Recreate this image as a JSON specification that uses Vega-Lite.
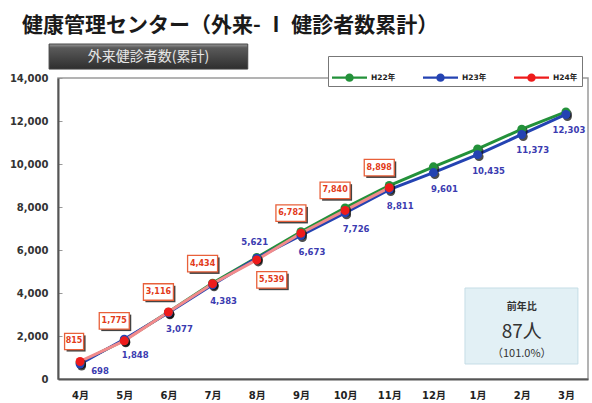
{
"$schema":"https://vega.github.io/schema/vega-lite/v6.json",
"width":530,"height":301,
"autosize":{"type":"none"},
"padding":{"left":58,"top":78,"right":4,"bottom":24},
"background":"#ffffff",
"title":{"text":"健康管理センター（外来- Ⅰ 健診者数累計）","anchor":"start","frame":"group","dx":-36,"offset":8,"fontSize":21,"font":"Noto Sans CJK JP","fontWeight":"bold","color":"#1a1a1a"},
"config":{"view":{"stroke":"#9a9a9a","strokeWidth":1.5},"font":"DejaVu Sans, Noto Sans CJK JP",
 "axisY":{"format":",d","labelFont":"DejaVu Sans","labelFontSize":10,"labelFontWeight":"bold","labelColor":"#333","labelPadding":14,"tickSize":-4,"tickColor":"#999","domainColor":"#555","domainWidth":2,"grid":false,"title":null},
 "axisX":{"labelAngle":0,"labelFont":"DejaVu Sans, Noto Sans CJK JP","labelFontSize":10,"labelFontWeight":"bold","labelColor":"#222","labelPadding":11,"ticks":false,"domainColor":"#555","domainWidth":2,"grid":false,"title":null}},
"datasets":{
"series":[
{"month":"4月","year":"H22年","value":760},
{"month":"5月","year":"H22年","value":1800},
{"month":"6月","year":"H22年","value":3110},
{"month":"7月","year":"H22年","value":4460},
{"month":"8月","year":"H22年","value":5650},
{"month":"9月","year":"H22年","value":6850},
{"month":"10月","year":"H22年","value":7960},
{"month":"11月","year":"H22年","value":9000},
{"month":"12月","year":"H22年","value":9870},
{"month":"1月","year":"H22年","value":10700},
{"month":"2月","year":"H22年","value":11620},
{"month":"3月","year":"H22年","value":12420},
{"month":"4月","year":"H23年","value":698},
{"month":"5月","year":"H23年","value":1848},
{"month":"6月","year":"H23年","value":3077},
{"month":"7月","year":"H23年","value":4383},
{"month":"8月","year":"H23年","value":5621},
{"month":"9月","year":"H23年","value":6673},
{"month":"10月","year":"H23年","value":7726},
{"month":"11月","year":"H23年","value":8811},
{"month":"12月","year":"H23年","value":9601},
{"month":"1月","year":"H23年","value":10435},
{"month":"2月","year":"H23年","value":11373},
{"month":"3月","year":"H23年","value":12303},
{"month":"4月","year":"H24年","value":815},
{"month":"5月","year":"H24年","value":1775},
{"month":"6月","year":"H24年","value":3116},
{"month":"7月","year":"H24年","value":4434},
{"month":"8月","year":"H24年","value":5539},
{"month":"9月","year":"H24年","value":6782},
{"month":"10月","year":"H24年","value":7840},
{"month":"11月","year":"H24年","value":8898}
],
"note":[{"head":"前年比","diff":"87人","ratio":"（101.0%）"}],
"sub":[{"label":"外来健診者数(累計)"}]
},
"layer":[
{"data":{"name":"sub"},
 "mark":{"type":"rect","clip":false,"xOffset":-31,"x2Offset":-9,"fill":{"gradient":"linear","x1":0,"y1":0,"x2":0,"y2":1,"stops":[{"offset":0,"color":"#9a9a9a"},{"offset":0.15,"color":"#5a5a5a"},{"offset":1,"color":"#2e2e2e"}]},"stroke":"#444","strokeWidth":1},
 "encoding":{"x":{"datum":"4月","type":"nominal"},"x2":{"datum":"8月"},"y":{"datum":15580,"type":"quantitative"},"y2":{"datum":14415}}},
{"data":{"name":"sub"},
 "mark":{"type":"text","color":"#e6e6e6","fontSize":14,"font":"Noto Sans CJK JP","dx":-20,"baseline":"middle","align":"center"},
 "encoding":{"x":{"datum":"6月","type":"nominal"},"y":{"datum":15000,"type":"quantitative"},"text":{"field":"label"}}},
{"data":{"name":"note"},
 "mark":{"type":"rect","fill":"#e2f0f5","stroke":"#c5dde6","strokeWidth":1,"xOffset":-12.6,"x2Offset":12},
 "encoding":{"x":{"datum":"1月","type":"nominal"},"x2":{"datum":"3月"},"y":{"datum":4232,"type":"quantitative"},"y2":{"datum":698}}},
{"data":{"name":"note"},
 "mark":{"type":"text","fontSize":10,"fontWeight":"bold","color":"#333","font":"Noto Sans CJK JP","baseline":"middle"},
 "encoding":{"x":{"datum":"2月","type":"nominal"},"y":{"datum":3348,"type":"quantitative"},"text":{"field":"head"}}},
{"data":{"name":"note"},
 "mark":{"type":"text","fontSize":19,"color":"#333","font":"Noto Sans CJK JP","baseline":"middle"},
 "encoding":{"x":{"datum":"2月","type":"nominal"},"y":{"datum":2186,"type":"quantitative"},"text":{"field":"diff"}}},
{"data":{"name":"note"},
 "mark":{"type":"text","fontSize":11,"color":"#333","font":"Noto Sans CJK JP","baseline":"middle"},
 "encoding":{"x":{"datum":"2月","type":"nominal"},"y":{"datum":1163,"type":"quantitative"},"text":{"field":"ratio"}}},
{"data":{"name":"series"},
 "mark":{"type":"line","strokeWidth":3},
 "encoding":{
  "x":{"field":"month","type":"nominal","scale":{"type":"point","domain":["4月","5月","6月","7月","8月","9月","10月","11月","12月","1月","2月","3月"],"padding":0.5},"axis":{"title":null}},
  "y":{"field":"value","type":"quantitative","scale":{"domain":[0,14000],"nice":false,"zero":true},"axis":{"title":null,"values":[0,2000,4000,6000,8000,10000,12000,14000],"format":",d"}},
  "color":{"field":"year","type":"nominal","condition":{"test":"datum.year==='H24年'","value":"#f28b8b"},
   "legend":{"title":null,"orient":"none","legendX":270,"legendY":-22,"direction":"horizontal","fillColor":"#ffffff","strokeColor":"#777777","padding":4,
    "symbolType":"M-1,-0.06L-0.2,-0.06L-0.2,0.06L-1,0.06Z M0.2,-0.06L1,-0.06L1,0.06L0.2,0.06Z M-0.24,0A0.24,0.24 0 1,1 0.24,0A0.24,0.24 0 1,1 -0.24,0Z",
    "symbolSize":1225,"symbolStrokeWidth":0,"symbolOpacity":1,"labelFont":"DejaVu Sans, Noto Sans CJK JP","labelFontSize":7.5,"labelFontWeight":"bold","labelColor":"#222","labelOffset":4,"columnPadding":27}}
 }},
{"data":{"name":"series"},
 "mark":{"type":"point","filled":true,"size":80,"color":"#111111","opacity":0.75,"xOffset":1.5,"yOffset":2},
 "encoding":{"x":{"field":"month","type":"nominal"},"y":{"field":"value","type":"quantitative"}}},
{"data":{"name":"series"},
 "mark":{"type":"point","filled":true,"size":80,"opacity":1},
 "encoding":{"x":{"field":"month","type":"nominal"},"y":{"field":"value","type":"quantitative"},
  "color":{"field":"year","type":"nominal","scale":{"domain":["H22年","H23年","H24年"],"range":["#23913a","#2443b2","#ee1b1b"]},
   "legend":{"title":null,"orient":"none","legendX":270,"legendY":-22,"direction":"horizontal","fillColor":"#ffffff","strokeColor":"#777777","padding":4,
    "symbolType":"M-1,-0.06L-0.2,-0.06L-0.2,0.06L-1,0.06Z M0.2,-0.06L1,-0.06L1,0.06L0.2,0.06Z M-0.24,0A0.24,0.24 0 1,1 0.24,0A0.24,0.24 0 1,1 -0.24,0Z",
    "symbolSize":1225,"symbolStrokeWidth":0,"symbolOpacity":1,"labelFont":"DejaVu Sans, Noto Sans CJK JP","labelFontSize":7.5,"labelFontWeight":"bold","labelColor":"#222","labelOffset":4,"columnPadding":27}}}},
{"data":{"name":"series"},
 "transform":[{"filter":"datum.year==='H23年'"}],
 "mark":{"type":"text","font":"DejaVu Sans","fontSize":8.5,"fontWeight":"bold","color":"#3b3bb0","baseline":"middle",
  "dx":{"expr":"datum.month==='8月' ? -2 : (datum.month==='4月' ? 20 : (datum.month==='3月' ? 3 : 11))"},
  "dy":{"expr":"datum.month==='8月' ? -16 : (datum.month==='4月' ? 7 : 16)"}},
 "encoding":{"x":{"field":"month","type":"nominal"},"y":{"field":"value","type":"quantitative"},"text":{"field":"value","format":","}}},
{"data":{"name":"series"},
 "transform":[{"filter":"datum.year==='H24年'"}],
 "mark":{"type":"point","filled":true,"color":"#222222","opacity":0.85,
  "shape":{"expr":"datum.value<1000 ? 'M-1,-0.85L1,-0.85L1,0.85L-1,0.85Z' : 'M-1,-0.55L1,-0.55L1,0.55L-1,0.55Z'"},
  "size":{"expr":"datum.value<1000 ? 361 : 900"},
  "xOffset":{"expr":"(datum.month==='8月' ? 15 : (datum.value<1000 ? -6 : -10)) + 2"},
  "yOffset":{"expr":"(datum.month==='8月' ? 20 : -20) + 2"}},
 "encoding":{"x":{"field":"month","type":"nominal"},"y":{"field":"value","type":"quantitative"}}},
{"data":{"name":"series"},
 "transform":[{"filter":"datum.year==='H24年'"}],
 "mark":{"type":"point","filled":true,"fill":"#ffffff","stroke":"#e8603a","strokeWidth":1.3,"opacity":1,
  "shape":{"expr":"datum.value<1000 ? 'M-1,-0.85L1,-0.85L1,0.85L-1,0.85Z' : 'M-1,-0.55L1,-0.55L1,0.55L-1,0.55Z'"},
  "size":{"expr":"datum.value<1000 ? 361 : 900"},
  "xOffset":{"expr":"datum.month==='8月' ? 15 : (datum.value<1000 ? -6 : -10)"},
  "yOffset":{"expr":"datum.month==='8月' ? 20 : -20"}},
 "encoding":{"x":{"field":"month","type":"nominal"},"y":{"field":"value","type":"quantitative"}}},
{"data":{"name":"series"},
 "transform":[{"filter":"datum.year==='H24年'"}],
 "mark":{"type":"text","font":"DejaVu Sans","fontSize":8,"fontWeight":"bold","color":"#e23b1a","baseline":"middle","align":"center",
  "dx":{"expr":"datum.month==='8月' ? 15 : (datum.value<1000 ? -6 : -10)"},
  "dy":{"expr":"datum.month==='8月' ? 20 : -20"}},
 "encoding":{"x":{"field":"month","type":"nominal"},"y":{"field":"value","type":"quantitative"},"text":{"field":"value","format":","}}}
]
}
